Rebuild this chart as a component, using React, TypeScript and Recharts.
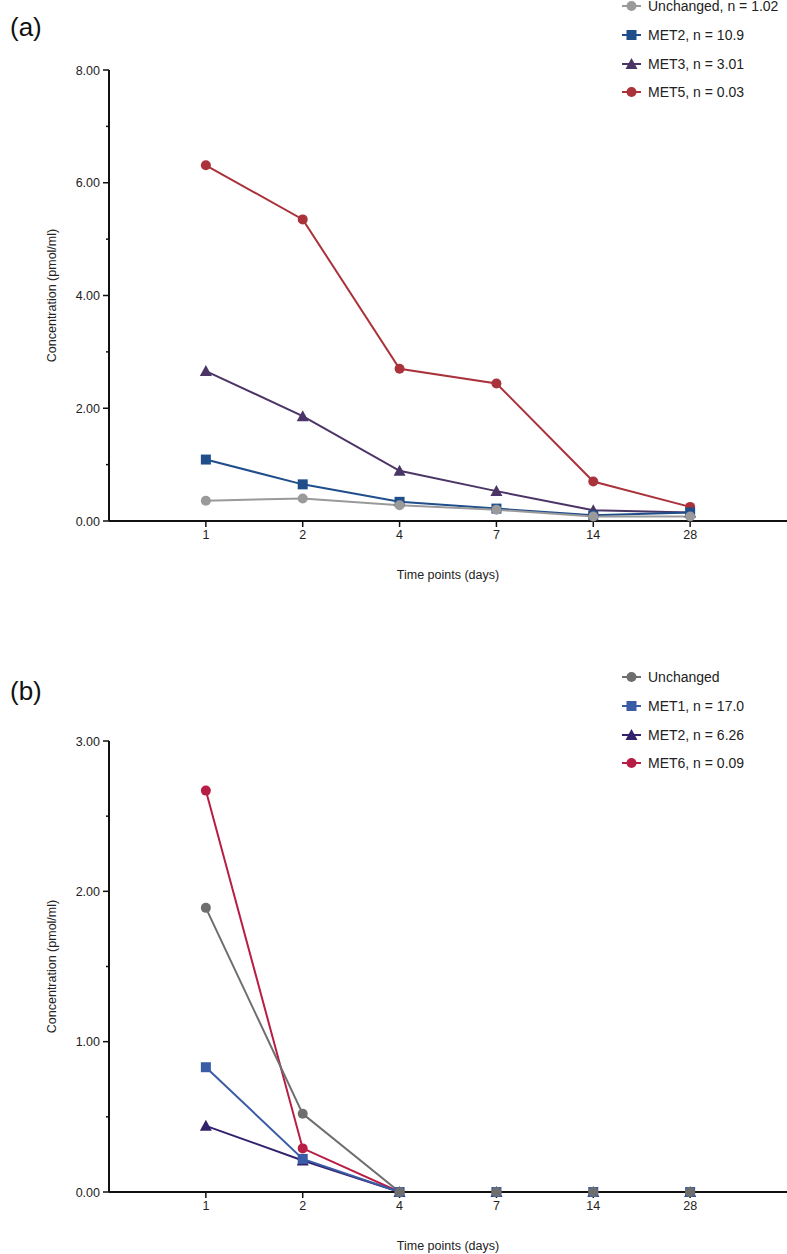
import React from "react";
import { LineChart, Line, XAxis, YAxis, Legend } from "recharts";

const timeLabels = ["1", "2", "4", "7", "14", "28"];

// Panel (a)
const unchangedA = [0.36, 0.40, 0.28, 0.20, 0.08, 0.08];
const met2A = [1.09, 0.65, 0.34, 0.22, 0.10, 0.15];
const met3A = [2.66, 1.86, 0.89, 0.53, 0.19, 0.15];
const met5A = [6.31, 5.35, 2.70, 2.44, 0.70, 0.25];
const yTicksA = [0, 1, 2, 3, 4, 5, 6, 7, 8];

// Panel (b)
const unchangedB = [1.89, 0.52, 0, 0, 0, 0];
const met1B = [0.83, 0.22, 0, 0, 0, 0];
const met2B = [0.44, 0.21, 0, 0, 0, 0];
const met6B = [2.67, 0.29, 0, 0, 0, 0];
const yTicksB = [0, 0.5, 1, 1.5, 2, 2.5, 3];

const FONT = "'Liberation Sans', Arial, sans-serif";

type Shape = "circle" | "square" | "triangle";
type Series = { key: string; name: string; color: string; shape: Shape; values: number[] };

const seriesA: Series[] = [
  { key: "unchanged", name: "Unchanged, n = 1.02", color: "#9a9a9a", shape: "circle", values: unchangedA },
  { key: "met2", name: "MET2, n = 10.9", color: "#1f4e8b", shape: "square", values: met2A },
  { key: "met3", name: "MET3, n = 3.01", color: "#4a3566", shape: "triangle", values: met3A },
  { key: "met5", name: "MET5, n = 0.03", color: "#a9323b", shape: "circle", values: met5A },
];

const seriesB: Series[] = [
  { key: "unchanged", name: "Unchanged", color: "#6e6e6e", shape: "circle", values: unchangedB },
  { key: "met1", name: "MET1, n = 17.0", color: "#3a5ba6", shape: "square", values: met1B },
  { key: "met2", name: "MET2, n = 6.26", color: "#33216e", shape: "triangle", values: met2B },
  { key: "met6", name: "MET6, n = 0.09", color: "#b81d45", shape: "circle", values: met6B },
];

const buildRows = (series: Series[]) =>
  timeLabels.map((_, i) => {
    const row: Record<string, number> = { x: i + 1 };
    series.forEach((s) => (row[s.key] = s.values[i]));
    return row;
  });

const marker = (shape: Shape, color: string, cx: number, cy: number, key?: string | number) => {
  if (shape === "square") return <rect key={key} x={cx - 5} y={cy - 5} width={10} height={10} fill={color} />;
  if (shape === "triangle")
    return <polygon key={key} points={`${cx},${cy - 6} ${cx - 6},${cy + 5} ${cx + 6},${cy + 5}`} fill={color} />;
  return <circle key={key} cx={cx} cy={cy} r={5} fill={color} />;
};

const makeDot = (s: Series) => (props: any) => {
  const { cx, cy, index } = props;
  if (cx == null || cy == null) return <g key={`e${index}`} />;
  return marker(s.shape, s.color, cx, cy, `${s.key}-${index}`);
};

const makeYTick = (isMajor: (v: number) => boolean) => (props: any) => {
  const { x, y, payload } = props;
  const axisX = x + 8;
  const major = isMajor(payload.value);
  return (
    <g>
      <line x1={axisX - (major ? 6 : 3)} x2={axisX} y1={y} y2={y} stroke="#111" strokeWidth={1.5} />
      {major && (
        <text x={x - 1} y={y} dy={4.5} textAnchor="end" fontSize={12.5} fill="#222" fontFamily={FONT}>
          {payload.value.toFixed(2)}
        </text>
      )}
    </g>
  );
};

const makeXTick = (props: any) => {
  const { x, y, payload } = props;
  return (
    <text x={x} y={y} dy={10} textAnchor="middle" fontSize={12.5} fill="#222" fontFamily={FONT}>
      {timeLabels[payload.value - 1]}
    </text>
  );
};

const makeLegend = (series: Series[]) => () => (
  <div style={{ fontFamily: FONT }}>
    {series.map((s) => (
      <div key={s.key} style={{ display: "flex", alignItems: "center", height: 28.7 }}>
        <svg width={24} height={14} style={{ marginRight: 4 }}>
          <line x1={2} x2={21} y1={7} y2={7} stroke={s.color} strokeWidth={2} />
          {marker(s.shape, s.color, 11.5, 7)}
        </svg>
        <span style={{ fontSize: 14, color: "#222", whiteSpace: "nowrap" }}>{s.name}</span>
      </div>
    ))}
  </div>
);

type PanelProps = {
  series: Series[];
  height: number;
  marginTop: number;
  marginBottom: number;
  yMax: number;
  yTicks: number[];
  isMajor: (v: number) => boolean;
  legendTop: number;
  drawOrder: string[];
};

const Panel = ({ series, height, marginTop, marginBottom, yMax, yTicks, isMajor, legendTop, drawOrder }: PanelProps) => {
  const rows = buildRows(series);
  const ordered = drawOrder.map((k) => series.find((s) => s.key === k)!);
  return (
    <LineChart
      width={787}
      height={height}
      data={rows}
      margin={{ top: marginTop, right: 0, bottom: marginBottom, left: 0 }}
      style={{ fontFamily: FONT }}
    >
      <XAxis
        dataKey="x"
        type="number"
        domain={[0, 7]}
        ticks={[1, 2, 3, 4, 5, 6]}
        interval={0}
        height={60}
        axisLine={{ stroke: "#111", strokeWidth: 2 }}
        tickLine={{ stroke: "#111", strokeWidth: 1.5 }}
        tickSize={6}
        tickMargin={2}
        tick={makeXTick}
        label={{
          value: "Time points (days)",
          position: "insideBottom",
          offset: 2,
          fontSize: 12.5,
          fill: "#222",
          fontFamily: FONT,
        }}
      />
      <YAxis
        type="number"
        domain={[0, yMax]}
        ticks={yTicks}
        interval={0}
        width={109}
        axisLine={{ stroke: "#111", strokeWidth: 2 }}
        tickLine={false}
        tickSize={6}
        tickMargin={2}
        tick={makeYTick(isMajor)}
        label={{
          value: "Concentration (pmol/ml)",
          angle: -90,
          position: "insideLeft",
          offset: 52,
          fontSize: 12.5,
          fill: "#222",
          fontFamily: FONT,
          style: { textAnchor: "middle" },
        }}
      />
      <Legend
        layout="vertical"
        align="center"
        verticalAlign="middle"
        content={makeLegend(series)}
        wrapperStyle={{ position: "absolute", top: legendTop, left: 620, width: 167, height: 116 }}
      />
      {ordered.map((s) => (
        <Line
          key={s.key}
          dataKey={s.key}
          name={s.name}
          type="linear"
          stroke={s.color}
          strokeWidth={2}
          dot={makeDot(s)}
          activeDot={false}
          isAnimationActive={false}
          legendType="none"
        />
      ))}
    </LineChart>
  );
};

export default function App() {
  return (
    <div style={{ position: "absolute", left: 0, top: 0, width: 787, height: 1254, background: "#fff", fontFamily: FONT }}>
      <div style={{ position: "absolute", left: 0, top: 0 }}>
        <Panel
          series={seriesA}
          height={640}
          marginTop={70}
          marginBottom={59}
          yMax={8}
          yTicks={yTicksA}
          isMajor={(v) => v % 2 === 0}
          legendTop={-8}
          drawOrder={["met5", "met3", "met2", "unchanged"]}
        />
      </div>
      <div style={{ position: "absolute", left: 10, top: 12, fontSize: 26, color: "#111" }}>(a)</div>
      <div style={{ position: "absolute", left: 0, top: 640 }}>
        <Panel
          series={seriesB}
          height={614}
          marginTop={101}
          marginBottom={2}
          yMax={3}
          yTicks={yTicksB}
          isMajor={(v) => Number.isInteger(v)}
          legendTop={23}
          drawOrder={["met6", "met2", "met1", "unchanged"]}
        />
      </div>
      <div style={{ position: "absolute", left: 10, top: 676, fontSize: 26, color: "#111" }}>(b)</div>
    </div>
  );
}
